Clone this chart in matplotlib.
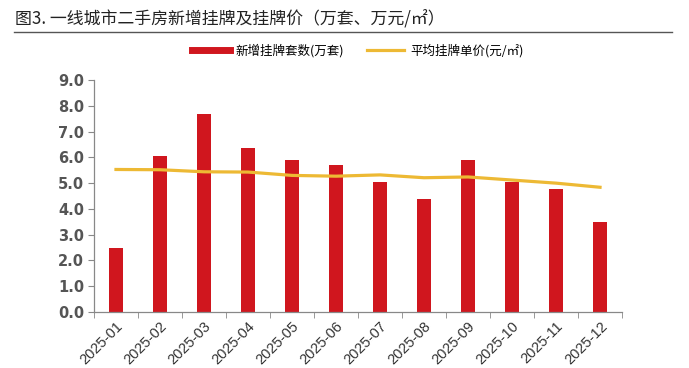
import matplotlib.pyplot as plt
from matplotlib.lines import Line2D

plt.rcParams["font.family"] = ["Noto Sans CJK SC", "DejaVu Sans"]

months = ["2025-01", "2025-02", "2025-03", "2025-04", "2025-05", "2025-06",
          "2025-07", "2025-08", "2025-09", "2025-10", "2025-11", "2025-12"]
new_listings = [2.50, 6.05, 7.67, 6.36, 5.89, 5.71, 5.04, 4.37, 5.88, 5.05, 4.77, 3.49]
avg_price = [5.53, 5.52, 5.44, 5.43, 5.30, 5.27, 5.32, 5.21, 5.24, 5.12, 5.00, 4.84]
yticks = [0, 1, 2, 3, 4, 5, 6, 7, 8, 9]

red = "#D0161E"
gold = "#EDB934"
grey = "#555555"

fig = plt.figure(figsize=(6.89, 3.68), dpi=100)
ax = fig.add_axes([0.1364, 0.152, 0.7664, 0.6306])

x = range(len(months))
bars = ax.bar(x, new_listings, width=0.31, color=red, zorder=2)
line, = ax.plot(x, avg_price, color=gold, linewidth=2.3, zorder=3)

ax.set_xlim(-0.5, len(months) - 0.5)
ax.set_ylim(0, 9)
ax.set_yticks(yticks)
ax.set_yticklabels([f"{v:.1f}" for v in yticks], fontsize=10.5, fontweight="bold",
                   color=grey, family=["DejaVu Sans"])
ax.set_xticks(list(x))
ax.set_xticklabels(months, rotation=45, ha="right", rotation_mode="anchor",
                   fontsize=10.5, color="#333333", family=["Liberation Sans"])
ax.tick_params(axis="x", length=0, pad=5)
ax.set_xticks([i - 0.5 for i in range(len(months) + 1)], minor=True)
ax.tick_params(axis="x", which="minor", length=4, direction="out", color="#888888")
ax.tick_params(axis="y", length=4, direction="out", color="#888888", pad=3)

for side in ["top", "right"]:
    ax.spines[side].set_visible(False)
for side in ["left", "bottom"]:
    ax.spines[side].set_color("#888888")
    ax.spines[side].set_linewidth(0.9)

fig.text(0.022, 0.948, "图3. 一线城市二手房新增挂牌及挂牌价（万套、万元/㎡）",
         fontsize=12.2, color="#222222", va="center", ha="left")
fig.add_artist(Line2D([0.02, 0.975], [0.913, 0.913], color="#555555", linewidth=1.0,
                      transform=fig.transFigure))

red_handle = Line2D([], [], color=red, linewidth=5)
ax.legend([red_handle, line], ["新增挂牌套数(万套)", "平均挂牌单价(元/㎡)"],
          loc="upper center", bbox_to_anchor=(0.5, 1.205), ncol=2, frameon=False,
          fontsize=9, handlelength=3.0, columnspacing=1.8, handletextpad=0.5)

fig.savefig("out.png", dpi=100)
